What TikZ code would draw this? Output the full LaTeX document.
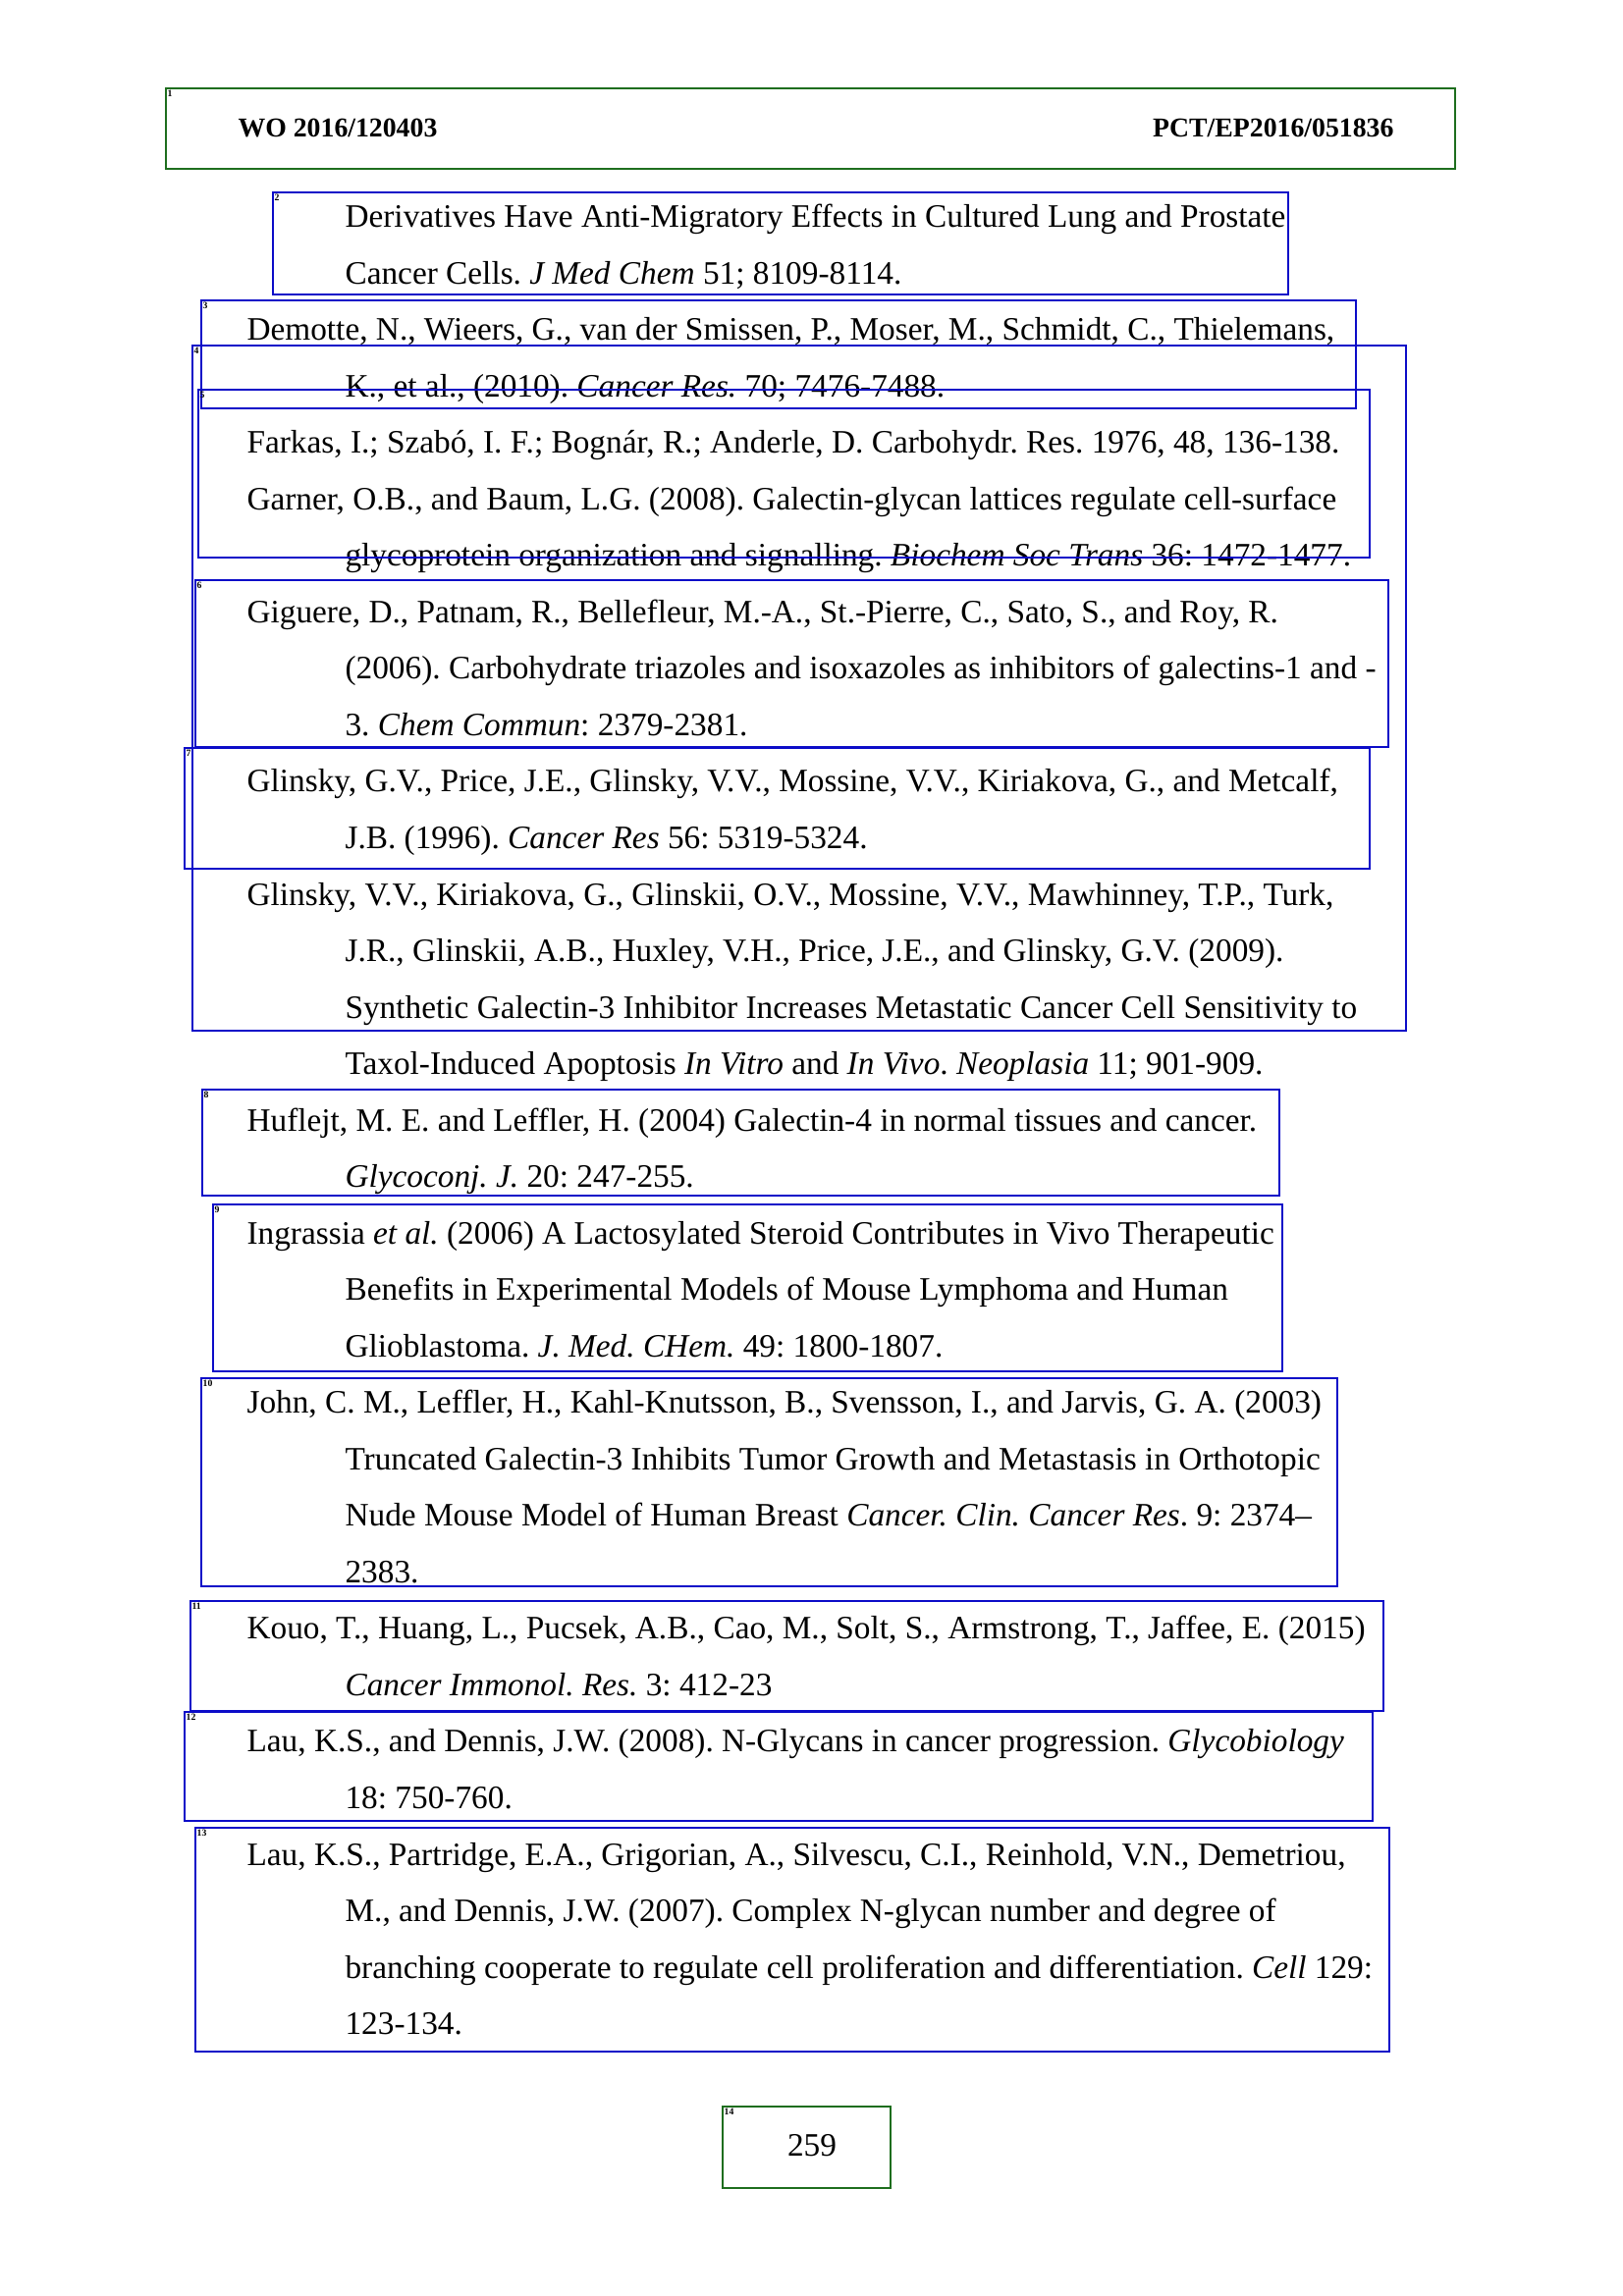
\documentclass[tikz,border=0pt]{standalone}
\usepackage{fontspec}
\setmainfont{Liberation Serif}
\usepackage{tikz}
\definecolor{boxblue}{RGB}{12,12,200}
\definecolor{boxgreen}{RGB}{30,110,30}
\frenchspacing

\begin{document}
\begin{tikzpicture}[x=0.3602pt, y=-0.3602pt,
    ref/.style={anchor=base west, inner sep=0pt, font=\fontsize{12}{14}\selectfont},
    head/.style={inner sep=0pt, font=\fontsize{10}{12}\selectfont\bfseries},
    bluebox/.style={draw=boxblue, line width=0.5pt},
    greenbox/.style={draw=boxgreen, line width=0.6pt},
    tag/.style={anchor=north west, inner sep=0.4pt, font=\fontsize{3.5}{4}\selectfont\bfseries}]
    \useasboundingbox (0,0) rectangle (1653,2339);

    % header
    \node [head, anchor=base west] (wo) at (242,139) {WO 2016/120403};
    \node [head, anchor=base east] (pct) at (1420,139) {PCT/EP2016/051836};

    % references
    \node [ref] (deriv1) at (351,231.6) {Derivatives Have Anti-Migratory Effects in Cultured Lung and Prostate};
    \node [ref] (deriv2) at (351,289.1) {Cancer Cells. \textit{J Med Chem} 51; 8109-8114.};
    \node [ref] (demotte1) at (251,346.7) {Demotte, N., Wieers, G., van der Smissen, P., Moser, M., Schmidt, C., Thielemans,};
    \node [ref] (demotte2) at (351,404.8) {K., et al., (2010). \textit{Cancer Res.} 70; 7476-7488.};
    \node [ref] (farkas) at (251,461.7) {Farkas, I.; Szabó, I. F.; Bognár, R.; Anderle, D. Carbohydr. Res. 1976, 48, 136-138.};
    \node [ref] (garner1) at (251,519.3) {Garner, O.B., and Baum, L.G. (2008). Galectin-glycan lattices regulate cell-surface};
    \node [ref] (garner2) at (351,576.8) {glycoprotein organization and signalling. \textit{Biochem Soc Trans} 36: 1472-1477.};
    \node [ref] (giguere1) at (251,634.3) {Giguere, D., Patnam, R., Bellefleur, M.-A., St.-Pierre, C., Sato, S., and Roy, R.};
    \node [ref] (giguere2) at (351,691.8) {(2006). Carbohydrate triazoles and isoxazoles as inhibitors of galectins-1 and -};
    \node [ref] (giguere3) at (351,749.4) {3. \textit{Chem Commun}: 2379-2381.};
    \node [ref] (glinskyA1) at (251,806.9) {Glinsky, G.V., Price, J.E., Glinsky, V.V., Mossine, V.V., Kiriakova, G., and Metcalf,};
    \node [ref] (glinskyA2) at (351,864.4) {J.B. (1996). \textit{Cancer Res} 56: 5319-5324.};
    \node [ref] (glinskyB1) at (251,922.0) {Glinsky, V.V., Kiriakova, G., Glinskii, O.V., Mossine, V.V., Mawhinney, T.P., Turk,};
    \node [ref] (glinskyB2) at (351,979.5) {J.R., Glinskii, A.B., Huxley, V.H., Price, J.E., and Glinsky, G.V. (2009).};
    \node [ref] (glinskyB3) at (351,1037.0) {Synthetic Galectin-3 Inhibitor Increases Metastatic Cancer Cell Sensitivity to};
    \node [ref] (glinskyB4) at (351,1094.6) {Taxol-Induced Apoptosis \textit{In Vitro} and \textit{In Vivo}. \textit{Neoplasia} 11; 901-909.};
    \node [ref] (huflejt1) at (251,1152.1) {Huflejt, M. E. and Leffler, H. (2004) Galectin-4 in normal tissues and cancer.};
    \node [ref] (huflejt2) at (351,1209.6) {\textit{Glycoconj. J.} 20: 247-255.};
    \node [ref] (ingrassia1) at (251,1267.1) {Ingrassia \textit{et al.} (2006) A Lactosylated Steroid Contributes in Vivo Therapeutic};
    \node [ref] (ingrassia2) at (351,1324.7) {Benefits in Experimental Models of Mouse Lymphoma and Human};
    \node [ref] (ingrassia3) at (351,1382.2) {Glioblastoma. \textit{J. Med. CHem.} 49: 1800-1807.};
    \node [ref] (john1) at (251,1439.7) {John, C. M., Leffler, H., Kahl-Knutsson, B., Svensson, I., and Jarvis, G. A. (2003)};
    \node [ref] (john2) at (351,1497.3) {Truncated Galectin-3 Inhibits Tumor Growth and Metastasis in Orthotopic};
    \node [ref] (john3) at (351,1554.8) {Nude Mouse Model of Human Breast \textit{Cancer. Clin. Cancer Res}. 9: 2374--};
    \node [ref] (john4) at (351,1612.3) {2383.};
    \node [ref] (kouo1) at (251,1669.9) {Kouo, T., Huang, L., Pucsek, A.B., Cao, M., Solt, S., Armstrong, T., Jaffee, E. (2015)};
    \node [ref] (kouo2) at (351,1727.4) {\textit{Cancer Immonol. Res.} 3: 412-23};
    \node [ref] (lauA1) at (251,1784.9) {Lau, K.S., and Dennis, J.W. (2008). N-Glycans in cancer progression. \textit{Glycobiology}};
    \node [ref] (lauA2) at (351,1842.4) {18: 750-760.};
    \node [ref] (lauB1) at (251,1900.0) {Lau, K.S., Partridge, E.A., Grigorian, A., Silvescu, C.I., Reinhold, V.N., Demetriou,};
    \node [ref] (lauB2) at (351,1957.5) {M., and Dennis, J.W. (2007). Complex N-glycan number and degree of};
    \node [ref] (lauB3) at (351,2015.0) {branching cooperate to regulate cell proliferation and differentiation. \textit{Cell} 129:};
    \node [ref] (lauB4) at (351,2072.6) {123-134.};

    % page number
    \node [inner sep=0pt, anchor=base, font=\fontsize{12}{14}\selectfont] (page) at (827,2196) {259};

    % region boxes
    \draw [greenbox] (169,90) rectangle (1482,172);
    \node [tag] (tag1) at (169,90) {1};
    \draw [bluebox] (278,196) rectangle (1312,300);
    \node [tag] (tag2) at (278,196) {2};
    \draw [bluebox] (205,306) rectangle (1381,416);
    \node [tag] (tag3) at (205,306) {3};
    \draw [bluebox] (196,352) rectangle (1432,1050);
    \node [tag] (tag4) at (196,352) {4};
    \draw [bluebox] (202,397) rectangle (1395,568);
    \node [tag] (tag5) at (202,397) {5};
    \draw [bluebox] (199,591) rectangle (1414,761);
    \node [tag] (tag6) at (199,591) {6};
    \draw [bluebox] (188,762) rectangle (1395,885);
    \node [tag] (tag7) at (188,762) {7};
    \draw [bluebox] (206,1110) rectangle (1303,1218);
    \node [tag] (tag8) at (206,1110) {8};
    \draw [bluebox] (217,1227) rectangle (1306,1397);
    \node [tag] (tag9) at (217,1227) {9};
    \draw [bluebox] (205,1404) rectangle (1362,1616);
    \node [tag] (tag10) at (205,1404) {10};
    \draw [bluebox] (194,1631) rectangle (1409,1743);
    \node [tag] (tag11) at (194,1631) {11};
    \draw [bluebox] (188,1744) rectangle (1398,1855);
    \node [tag] (tag12) at (188,1744) {12};
    \draw [bluebox] (199,1862) rectangle (1415,2090);
    \node [tag] (tag13) at (199,1862) {13};
    \draw [greenbox] (736,2146) rectangle (907,2229);
    \node [tag] (tag14) at (736,2146) {14};
\end{tikzpicture}
\end{document}
